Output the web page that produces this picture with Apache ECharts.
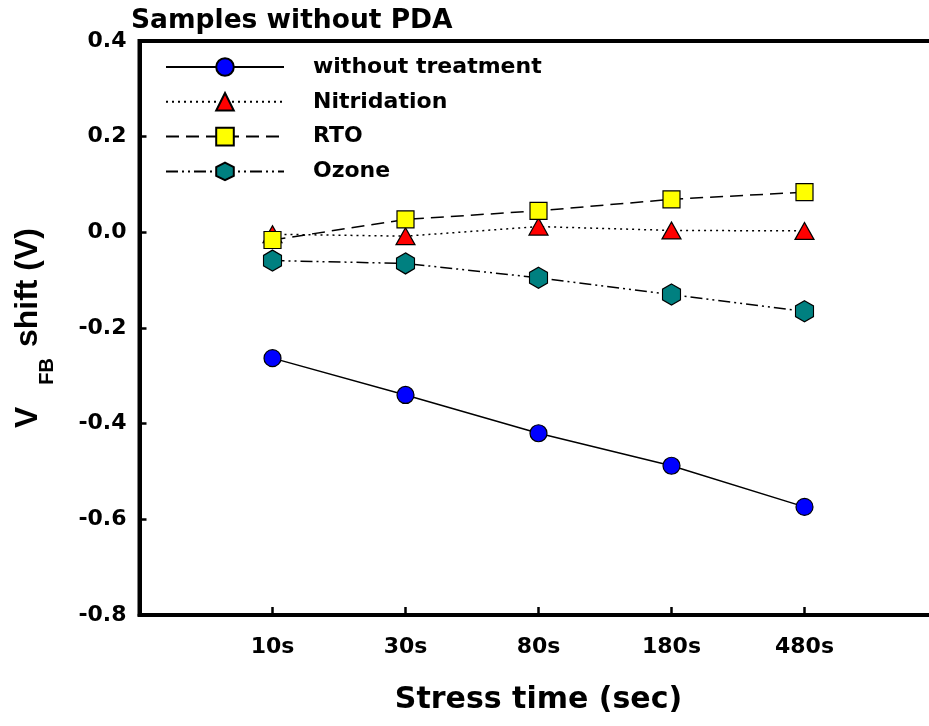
<!DOCTYPE html>
<html>
<head>
<meta charset="utf-8">
<script src="https://cdn.jsdelivr.net/npm/echarts@6/dist/echarts.min.js"></script>
<style>
  html, body { margin: 0; padding: 0; background: #fff; }
  #chart { width: 929px; height: 726px; }
</style>
</head>
<body>
<div id="chart"></div>
<script>
// Stress-time categories (empty slots pad both ends of the axis)
const stressTimes = ['', '10s', '30s', '80s', '180s', '480s', ''];

// Flat-band voltage shift (V) per treatment
const withoutTreatment = [null, -0.263, -0.340, -0.420, -0.488, -0.574, null];
const nitridation      = [null, -0.004, -0.008,  0.012,  0.004,  0.003, null];
const rto              = [null, -0.016,  0.027,  0.045,  0.069,  0.084, null];
const ozone            = [null, -0.059, -0.065, -0.095, -0.130, -0.165, null];

const seriesNames = ['without treatment', 'Nitridation', 'RTO', 'Ozone'];

const FONT = 'DejaVu Sans';
const hexagon = 'path://M0,-1 L0.866,-0.5 L0.866,0.5 L0,1 L-0.866,0.5 L-0.866,-0.5 Z';

function makeSeries(name, data, symbol, size, fill, dash) {
  return {
    name: name,
    type: 'line',
    data: data,
    symbol: symbol,
    symbolSize: size,
    showAllSymbol: true,
    connectNulls: false,
    lineStyle: { color: '#000', width: 1.5, type: dash },
    itemStyle: { color: fill, borderColor: '#000', borderWidth: 1.2 },
    emphasis: { disabled: true },
    animation: false
  };
}

const chart = echarts.init(document.getElementById('chart'), null, { renderer: 'canvas' });

chart.setOption({
  backgroundColor: '#fff',
  animation: false,
  title: {
    text: 'Samples without PDA',
    left: 126,
    top: 3,
    textStyle: { fontFamily: FONT, fontWeight: 'bold', fontSize: 26.5, color: '#000' }
  },
  legend: {
    orient: 'vertical',
    left: 160,
    top: 51,
    itemWidth: 118,
    itemHeight: 22,
    itemGap: 12.8,
    selectedMode: false,
    data: seriesNames,
    textStyle: {
      fontFamily: FONT, fontWeight: 'bold', fontSize: 22, color: '#000',
      padding: [0, 0, 0, 24]
    }
  },
  grid: {
    left: 139.5,
    width: 798,
    top: 41,
    bottom: 111,
    outerBoundsMode: 'none',
    containLabel: false,
    show: true,
    borderColor: '#000',
    borderWidth: 4,
    backgroundColor: 'transparent'
  },
  xAxis: {
    type: 'category',
    data: stressTimes,
    boundaryGap: false,
    name: 'Stress time (sec)',
    nameLocation: 'middle',
    nameGap: 70,
    nameTextStyle: { fontFamily: FONT, fontWeight: 'bold', fontSize: 30, color: '#000' },
    axisLine: { onZero: false, lineStyle: { color: '#000', width: 4 } },
    axisTick: { inside: true, length: 8, lineStyle: { color: '#000', width: 2.5 } },
    axisLabel: { margin: 21, fontFamily: FONT, fontWeight: 'bold', fontSize: 22, color: '#000' },
    splitLine: { show: false }
  },
  yAxis: {
    type: 'value',
    min: -0.8,
    max: 0.4,
    interval: 0.2,
    name: '{a|V}{b|FB}{a| shift (V)}',
    nameLocation: 'middle',
    nameRotate: 90,
    nameGap: 95,
    nameTextStyle: {
      rich: {
        a: { fontFamily: 'Liberation Sans', fontWeight: 'bold', fontSize: 32, color: '#000', lineHeight: 32, verticalAlign: 'top' },
        b: { fontFamily: 'Liberation Sans', fontWeight: 'bold', fontSize: 20, color: '#000', lineHeight: 20, verticalAlign: 'top', padding: [25, 2, 0, 22] }
      }
    },
    axisLine: { show: true, onZero: false, lineStyle: { color: '#000', width: 4 } },
    axisTick: { show: true, inside: true, length: 7, lineStyle: { color: '#000', width: 2.5 } },
    axisLabel: {
      margin: 13,
      fontFamily: FONT, fontWeight: 'bold', fontSize: 22, color: '#000',
      formatter: function (v) { return v.toFixed(1); }
    },
    splitLine: { show: false }
  },
  series: [
    makeSeries(seriesNames[0], withoutTreatment, 'circle', 17, '#0000ff', 'solid'),
    makeSeries(seriesNames[1], nitridation, 'triangle', [19, 17], '#ff0000', [2, 4]),
    makeSeries(seriesNames[2], rto, 'rect', 17, '#ffff00', [13, 7]),
    makeSeries(seriesNames[3], ozone, hexagon, [18, 21], '#008080', [12, 4, 2, 4, 2, 4])
  ]
});
</script>
</body>
</html>
